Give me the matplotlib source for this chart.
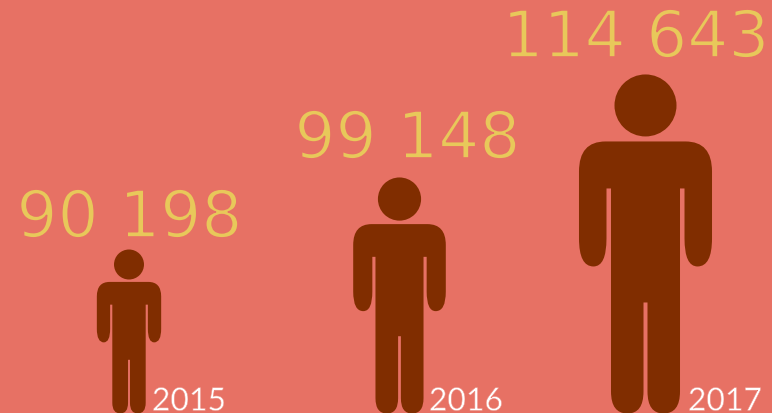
# pictogram: one figure per year, sized by the yearly total

import numpy as np
import matplotlib
matplotlib.use('Agg')
import matplotlib.pyplot as plt
import matplotlib.patheffects as pe
from matplotlib.path import Path
from matplotlib.patches import PathPatch, Circle
from matplotlib.transforms import Affine2D

# data
years = ['2015', '2016', '2017']
totals = [90198, 99148, 114643]

# layout, in pixels
W, H = 772, 414
centers = [129, 399.5, 645.5]
base = 414.5
label_x = [129.5, 407.5, 636]
label_y = [238, 159, 58]
year_x = [189, 466, 725]

# the figures are not to scale in the original, so the size scale has a bend in it
scale_values = [90000, 100000, 115000]
scale_pixels = [162.4, 242.9, 341.4]

BG = '#E77164'
BODY = '#802D00'
GOLD = '#E8C85A'

# outline of the 2017 figure, origin at the feet, x = distance from centre
def person_path():
    MOVE, LINE, CURVE = Path.MOVETO, Path.LINETO, Path.CURVE3
    right = [
        ((0, 272), MOVE),
        ((40, 272), LINE),
        ((66.5, 272), CURVE), ((66.5, 242), CURVE),
        ((66.5, 175), LINE),
        ((66.5, 147), CURVE), ((52, 147), CURVE),
        ((39, 147), CURVE), ((39, 175), CURVE),
        ((39, 225), LINE),
        ((34.5, 225), LINE),
        ((34.5, 22), LINE),
        ((34.5, 0), CURVE), ((18, 0), CURVE),
        ((2, 0), CURVE), ((2, 22), CURVE),
        ((2, 111), LINE),
        ((0, 111), LINE),
    ]
    # the left side is the right side mirrored and walked backwards
    verts = [p for p, c in right]
    codes = [c for p, c in right]
    verts += [(-p[0], p[1]) for p, c in reversed(right)][1:]
    codes += [c for p, c in right][1:][::-1]
    verts.append((0, 272))
    codes.append(Path.CLOSEPOLY)
    return Path(verts, codes)

plt.rcParams['font.family'] = ['Lato', 'DejaVu Sans']

fig = plt.figure(figsize=(W / 100, H / 100), dpi=100, facecolor=BG)
ax = fig.add_axes([0, 0, 1, 1])
ax.set_xlim(0, W)
ax.set_ylim(H, 0)
ax.axis('off')

heights = np.interp(totals, scale_values, scale_pixels)
body = person_path()
for i in range(len(years)):
    s = heights[i] / 339
    tr = Affine2D().scale(s, -s).translate(centers[i], base) + ax.transData
    ax.add_patch(PathPatch(body, facecolor=BODY, edgecolor='none', transform=tr))
    ax.add_patch(Circle((0, 308), 31, facecolor=BODY, edgecolor='none', transform=tr))

    label = f'{totals[i]:,}'.replace(',', ' ')
    txt = ax.text(label_x[i], label_y[i], label, color=GOLD, ha='center',
                  va='baseline', fontsize=46.5, family=['DejaVu Sans'])
    # thin the letters, the original face is much lighter
    txt.set_path_effects([pe.Normal(), pe.Stroke(linewidth=1.2, foreground=BG)])
    yr = ax.text(year_x[i], 411.5, years[i], color='white', ha='center', va='baseline',
                 fontsize=23, fontweight='normal')
    yr.set_path_effects([pe.Normal(), pe.Stroke(linewidth=0.4, foreground=BG)])

fig.savefig('out.png', dpi=100, facecolor=BG)
